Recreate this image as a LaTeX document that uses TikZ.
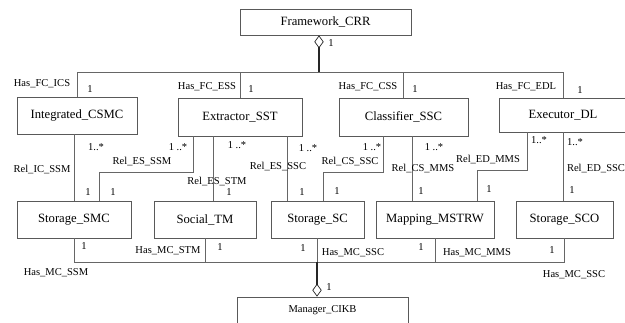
\documentclass[tikz,border=0pt]{standalone}
\usepackage{fontspec}
\setmainfont{Liberation Serif}
\usetikzlibrary{arrows.meta}

\begin{document}
\begin{tikzpicture}[
      x=0.03cm, y=-0.03cm,
      classe/.style={
        draw=black!65,
        line width=0.6pt,
        rectangle,
        inner sep=0pt,
        minimum height=1.11cm,
        font=\fontsize{10.8}{12}\selectfont
      },
      lien/.style={draw=black!60, line width=0.6pt},
      tronc/.style={draw=black!85, line width=1.1pt},
      losange/.style={{Diamond[open,length=11pt,width=8pt,line width=0.6pt]}-},
      etiq/.style={inner sep=0pt, font=\fontsize{9}{10}\selectfont}
    ]
    \useasboundingbox (0,0) rectangle (625,322);

    \node[classe, minimum width=5.13cm, minimum height=0.78cm] (fw) at (325.5,22) {Framework\_CRR} ;
    \node[classe, minimum width=3.6cm] (intg) at (77,115.5) {Integrated\_CSMC} ;
    \node[classe, minimum width=3.72cm, minimum height=1.14cm] (extr) at (240,117) {Extractor\_SST} ;
    \node[classe, minimum width=3.87cm, minimum height=1.14cm] (clas) at (403.5,117) {Classifier\_SSC} ;
    \node[classe, minimum width=3.84cm, minimum height=1.02cm] (exec) at (563,115) {Executor\_DL} ;
    \node[classe, minimum width=3.42cm] (ssmc) at (74,219.5) {Storage\_SMC} ;
    \node[classe, minimum width=3.06cm] (soc) at (205,219.5) {Social\_TM} ;
    \node[classe, minimum width=2.79cm] (ssc) at (317.5,219.5) {Storage\_SC} ;
    \node[classe, minimum width=3.54cm] (map) at (435,219.5) {Mapping\_MSTRW} ;
    \node[classe, minimum width=2.91cm] (sco) at (564.5,219.5) {Storage\_SCO} ;
    \node[classe, minimum width=5.13cm, minimum height=0.81cm, font=\fontsize{9}{10}\selectfont] (mgr) at (322.5,310.5) {Manager\_CIKB} ;

    \node[coordinate,xshift=-0.195cm] (fwb) at (fw.south) {};
    \node[coordinate] (bus) at (319,72) {};
    \node[coordinate] (bus2) at (317,262) {};

    \draw[tronc, losange] (fwb) -- (fwb |- bus);
    \draw[lien] (intg.north) |- (exec.north |- bus) -- (exec.north);
    \draw[lien] (extr.north) -- (extr.north |- bus);
    \draw[lien] (clas.north) -- (clas.north |- bus);

    \node[coordinate,xshift=-1.41cm] (es1) at (extr.south) {};
    \node[coordinate,xshift=-0.81cm] (es2) at (extr.south) {};
    \node[coordinate,xshift=1.41cm] (es3) at (extr.south) {};
    \node[coordinate,xshift=-0.615cm] (cs1) at (clas.south) {};
    \node[coordinate,xshift=0.255cm] (cs2) at (clas.south) {};
    \node[coordinate,xshift=-1.08cm] (ed1) at (exec.south) {};
    \node[coordinate,xshift=0.75cm] (sm1) at (ssmc.north) {};
    \node[coordinate,xshift=0.165cm] (sc1) at (ssc.north) {};
    \node[coordinate,xshift=1.26cm] (mp1) at (map.north) {};

    \draw[lien] (ssmc.north) -- (ssmc.north |- intg.south);
    \draw[lien] (es1) -- ++(0,36) -| (sm1);
    \draw[lien] (es2) -- (es2 |- soc.north);
    \draw[lien] (es3) -- (es3 |- ssc.north);
    \draw[lien] (cs1) -- ++(0,36) -| (sc1);
    \draw[lien] (cs2) -- (cs2 |- map.north);
    \draw[lien] (ed1) -- ++(0,38) -| (mp1);
    \draw[lien] (exec.south) -- (exec.south |- sco.north);

    \draw[lien] (ssmc.south) |- (sco.south |- bus2) -- (sco.south);
    \draw[lien] (soc.south) -- (soc.south |- bus2);
    \draw[lien] (map.south) -- (map.south |- bus2);
    \draw[lien] (ssc.south) -- (ssc.south |- bus2);
    \draw[tronc, losange] (mgr.north -| bus2) -- (bus2);

    \node[etiq] (m0) at (331,43) {1};
    \node[etiq] (h1) at (42,84) {Has\_FC\_ICS};
    \node[etiq] (m1) at (90,89) {1};
    \node[etiq] (h2) at (207,87) {Has\_FC\_ESS};
    \node[etiq] (m2) at (251,89) {1};
    \node[etiq] (h3) at (368,87) {Has\_FC\_CSS};
    \node[etiq] (m3) at (415,89) {1};
    \node[etiq] (h4) at (526,87) {Has\_FC\_EDL};
    \node[etiq] (m4) at (580,90) {1};

    \node[etiq] (r1a) at (96,147) {1..*};
    \node[etiq] (r1) at (42,170) {Rel\_IC\_SSM};
    \node[etiq] (r1b) at (88,192) {1};
    \node[etiq] (r2a) at (178,147) {1 ..*};
    \node[etiq] (r2) at (142,162) {Rel\_ES\_SSM};
    \node[etiq] (r2b) at (113,192) {1};
    \node[etiq] (r3a) at (237,145) {1 ..*};
    \node[etiq] (r3) at (217,182) {Rel\_ES\_STM};
    \node[etiq] (r3b) at (229,192) {1};
    \node[etiq] (r4a) at (308,148) {1 ..*};
    \node[etiq] (r4) at (278,167) {Rel\_ES\_SSC};
    \node[etiq] (r4b) at (302,192) {1};
    \node[etiq] (r5a) at (372,147) {1 ..*};
    \node[etiq] (r5) at (350,162) {Rel\_CS\_SSC};
    \node[etiq] (r5b) at (337,191) {1};
    \node[etiq] (r6a) at (434,147) {1 ..*};
    \node[etiq] (r6) at (423,169) {Rel\_CS\_MMS};
    \node[etiq] (r6b) at (421,191) {1};
    \node[etiq] (r7a) at (539,140) {1..*};
    \node[etiq] (r7) at (488,160) {Rel\_ED\_MMS};
    \node[etiq] (r7b) at (489,189) {1};
    \node[etiq] (r8a) at (575,142) {1..*};
    \node[etiq] (r8) at (596,169) {Rel\_ED\_SSC};
    \node[etiq] (r8b) at (572,190) {1};

    \node[etiq] (b1a) at (84,246) {1};
    \node[etiq] (b1) at (56,273) {Has\_MC\_SSM};
    \node[etiq] (b2) at (168,251) {Has\_MC\_STM};
    \node[etiq] (b2a) at (220,247) {1};
    \node[etiq] (b3a) at (303,248) {1};
    \node[etiq] (b3) at (353,253) {Has\_MC\_SSC};
    \node[etiq] (b4a) at (421,247) {1};
    \node[etiq] (b4) at (477,253) {Has\_MC\_MMS};
    \node[etiq] (b5a) at (552,250) {1};
    \node[etiq] (b5) at (574,275) {Has\_MC\_SSC};
    \node[etiq] (b6) at (329,287) {1};

  \end{tikzpicture}
\end{document}
